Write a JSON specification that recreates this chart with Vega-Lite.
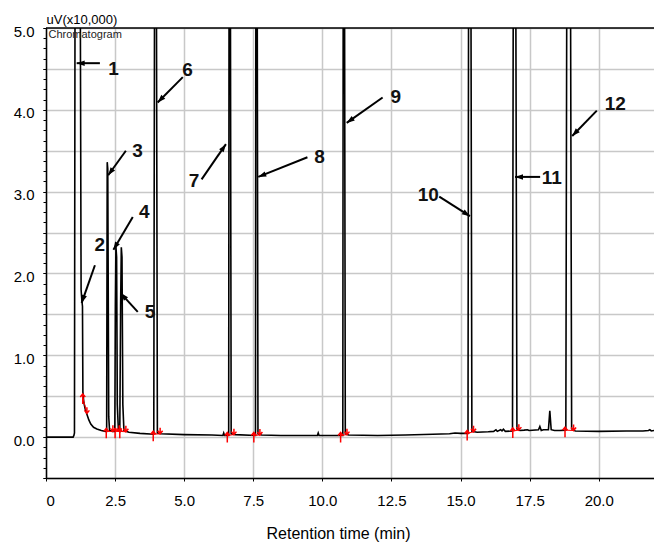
{
  "$schema": "https://vega.github.io/schema/vega-lite/v6.json",
  "width": 608,
  "height": 450,
  "autosize": {"type": "none"},
  "padding": {"left": 46, "top": 28, "right": 0, "bottom": 65},
  "background": "white",
  "config": {
    "view": {"stroke": null},
    "font": "Liberation Sans",
    "axis": {
      "labelFont": "Liberation Sans",
      "titleFont": "Liberation Sans",
      "labelColor": "black",
      "titleColor": "black",
      "domainColor": "black",
      "domainWidth": 1.5,
      "tickColor": "black",
      "tickWidth": 1,
      "gridColor": "#c8c8c8",
      "gridWidth": 1.5,
      "titleFontWeight": "normal"
    }
  },
  "datasets": {
    "chrom": [
      {"t": 0, "v": 0}, {"t": 0.5, "v": 0}, {"t": 0.98, "v": 0.0}, {"t": 1.01, "v": 0.02}, {"t": 1.03, "v": 0.05},
      {"t": 1.06, "v": 8}, {"t": 1.22, "v": 8}, {"t": 1.27, "v": 1.8}, {"t": 1.3, "v": 1.66}, {"t": 1.32, "v": 1.6},
      {"t": 1.335, "v": 0.55}, {"t": 1.37, "v": 0.42}, {"t": 1.42, "v": 0.34}, {"t": 1.48, "v": 0.28}, {"t": 1.55, "v": 0.21},
      {"t": 1.62, "v": 0.16}, {"t": 1.72, "v": 0.12}, {"t": 1.84, "v": 0.1}, {"t": 2.0, "v": 0.08}, {"t": 2.15, "v": 0.07},
      {"t": 2.195, "v": 0.07}, {"t": 2.215, "v": 3.36}, {"t": 2.235, "v": 3.28}, {"t": 2.27, "v": 0.25}, {"t": 2.3, "v": 0.08},
      {"t": 2.4, "v": 0.07}, {"t": 2.49, "v": 0.07}, {"t": 2.51, "v": 1.6}, {"t": 2.53, "v": 2.33}, {"t": 2.555, "v": 2.2},
      {"t": 2.58, "v": 0.4}, {"t": 2.62, "v": 0.08}, {"t": 2.67, "v": 0.07}, {"t": 2.7, "v": 1.6}, {"t": 2.725, "v": 2.32},
      {"t": 2.75, "v": 2.2}, {"t": 2.78, "v": 0.4}, {"t": 2.82, "v": 0.08}, {"t": 3.0, "v": 0.06}, {"t": 3.4, "v": 0.045},
      {"t": 3.9, "v": 0.035}, {"t": 3.94, "v": 8}, {"t": 3.98, "v": 8}, {"t": 4.03, "v": 0.05}, {"t": 4.15, "v": 0.04},
      {"t": 5.0, "v": 0.03}, {"t": 6.0, "v": 0.025}, {"t": 6.4, "v": 0.02}, {"t": 6.43, "v": 0.05}, {"t": 6.46, "v": 0.02},
      {"t": 6.61, "v": 0.02}, {"t": 6.63, "v": 8}, {"t": 6.66, "v": 8}, {"t": 6.7, "v": 0.04}, {"t": 6.85, "v": 0.03},
      {"t": 7.58, "v": 0.02}, {"t": 7.6, "v": 8}, {"t": 7.63, "v": 8}, {"t": 7.67, "v": 0.04}, {"t": 7.8, "v": 0.025},
      {"t": 8.5, "v": 0.02}, {"t": 9.5, "v": 0.02}, {"t": 9.82, "v": 0.02}, {"t": 9.85, "v": 0.05}, {"t": 9.88, "v": 0.02},
      {"t": 10.74, "v": 0.02}, {"t": 10.76, "v": 8}, {"t": 10.79, "v": 8}, {"t": 10.83, "v": 0.04}, {"t": 10.95, "v": 0.025},
      {"t": 12.0, "v": 0.02}, {"t": 13.0, "v": 0.025}, {"t": 14.0, "v": 0.035}, {"t": 14.6, "v": 0.04}, {"t": 14.8, "v": 0.05},
      {"t": 15.0, "v": 0.045}, {"t": 15.27, "v": 0.045}, {"t": 15.3, "v": 8}, {"t": 15.36, "v": 8}, {"t": 15.41, "v": 0.07},
      {"t": 15.6, "v": 0.06}, {"t": 16.0, "v": 0.065}, {"t": 16.2, "v": 0.07}, {"t": 16.28, "v": 0.09}, {"t": 16.33, "v": 0.07},
      {"t": 16.45, "v": 0.09}, {"t": 16.5, "v": 0.075}, {"t": 16.55, "v": 0.095}, {"t": 16.62, "v": 0.07}, {"t": 16.88, "v": 0.075},
      {"t": 16.92, "v": 8}, {"t": 16.98, "v": 8}, {"t": 17.04, "v": 0.1}, {"t": 17.15, "v": 0.08}, {"t": 17.3, "v": 0.085},
      {"t": 17.42, "v": 0.09}, {"t": 17.48, "v": 0.08}, {"t": 17.82, "v": 0.09}, {"t": 17.87, "v": 0.13}, {"t": 17.92, "v": 0.08},
      {"t": 18.0, "v": 0.09}, {"t": 18.18, "v": 0.09}, {"t": 18.23, "v": 0.32}, {"t": 18.28, "v": 0.09}, {"t": 18.4, "v": 0.08},
      {"t": 18.6, "v": 0.08}, {"t": 18.81, "v": 0.085}, {"t": 18.86, "v": 8}, {"t": 18.96, "v": 8}, {"t": 19.02, "v": 0.1},
      {"t": 19.15, "v": 0.075}, {"t": 20.0, "v": 0.07}, {"t": 21.0, "v": 0.075}, {"t": 21.6, "v": 0.075}, {"t": 21.8, "v": 0.08},
      {"t": 21.85, "v": 0.09}, {"t": 21.9, "v": 0.075}, {"t": 22.0, "v": 0.08}
    ],
    "marks": [
      {"t0": 1.33, "v0": 0.49, "t1": 1.48, "v1": 0.29},
      {"t0": 2.18, "v0": 0.07, "t1": 2.42, "v1": 0.07},
      {"t0": 2.5, "v0": 0.07, "t1": 2.65, "v1": 0.07},
      {"t0": 2.67, "v0": 0.07, "t1": 2.89, "v1": 0.065},
      {"t0": 3.88, "v0": 0.035, "t1": 4.13, "v1": 0.04},
      {"t0": 6.56, "v0": 0.02, "t1": 6.8, "v1": 0.03},
      {"t0": 7.52, "v0": 0.02, "t1": 7.74, "v1": 0.025},
      {"t0": 10.66, "v0": 0.02, "t1": 10.89, "v1": 0.03},
      {"t0": 15.24, "v0": 0.045, "t1": 15.47, "v1": 0.065},
      {"t0": 16.89, "v0": 0.075, "t1": 17.11, "v1": 0.085},
      {"t0": 18.78, "v0": 0.085, "t1": 19.09, "v1": 0.08}
    ],
    "arrows": [
      {"n": "1", "lx": 2.44, "ly": 4.5, "tx": 1.95, "ty": 4.57, "hx": 1.11, "hy": 4.57},
      {"n": "2", "lx": 1.95, "ly": 2.35, "tx": 1.77, "ty": 2.1, "hx": 1.29, "hy": 1.64},
      {"n": "3", "lx": 3.31, "ly": 3.5, "tx": 2.89, "ty": 3.5, "hx": 2.25, "hy": 3.2},
      {"n": "4", "lx": 3.56, "ly": 2.75, "tx": 3.14, "ty": 2.69, "hx": 2.44, "hy": 2.29},
      {"n": "5", "lx": 3.76, "ly": 1.53, "tx": 3.32, "ty": 1.53, "hx": 2.7, "hy": 1.76},
      {"n": "6", "lx": 5.12, "ly": 4.49, "tx": 4.95, "ty": 4.4, "hx": 4.04, "hy": 4.09},
      {"n": "7", "lx": 5.36, "ly": 3.13, "tx": 5.63, "ty": 3.15, "hx": 6.51, "hy": 3.58},
      {"n": "8", "lx": 9.9, "ly": 3.42, "tx": 9.46, "ty": 3.42, "hx": 7.68, "hy": 3.18},
      {"n": "9", "lx": 12.66, "ly": 4.16, "tx": 12.18, "ty": 4.15, "hx": 10.88, "hy": 3.84},
      {"n": "10", "lx": 13.83, "ly": 2.96, "tx": 14.23, "ty": 2.94, "hx": 15.34, "hy": 2.7},
      {"n": "11", "lx": 18.3, "ly": 3.17, "tx": 17.88, "ty": 3.18, "hx": 16.97, "hy": 3.18},
      {"n": "12", "lx": 20.6, "ly": 4.07, "tx": 19.93, "ty": 3.99, "hx": 19.04, "hy": 3.68}
    ]
  },
  "resolve": {"axis": {"y": "independent"}},
  "layer": [
    {
      "layer": [
        {"mark": {"type": "rule", "color": "#c8c8c8", "strokeWidth": 1.5}, "encoding": {"y": {"datum": 0, "type": "quantitative", "axis": null}}},
        {"mark": {"type": "rule", "color": "#c8c8c8", "strokeWidth": 1.5}, "encoding": {"y": {"datum": 0.5, "type": "quantitative", "axis": null}}},
        {"mark": {"type": "rule", "color": "#c8c8c8", "strokeWidth": 1.5}, "encoding": {"y": {"datum": 1, "type": "quantitative", "axis": null}}},
        {"mark": {"type": "rule", "color": "#c8c8c8", "strokeWidth": 1.5}, "encoding": {"y": {"datum": 1.5, "type": "quantitative", "axis": null}}},
        {"mark": {"type": "rule", "color": "#c8c8c8", "strokeWidth": 1.5}, "encoding": {"y": {"datum": 2, "type": "quantitative", "axis": null}}},
        {"mark": {"type": "rule", "color": "#c8c8c8", "strokeWidth": 1.5}, "encoding": {"y": {"datum": 2.5, "type": "quantitative", "axis": null}}},
        {"mark": {"type": "rule", "color": "#c8c8c8", "strokeWidth": 1.5}, "encoding": {"y": {"datum": 3, "type": "quantitative", "axis": null}}},
        {"mark": {"type": "rule", "color": "#c8c8c8", "strokeWidth": 1.5}, "encoding": {"y": {"datum": 3.5, "type": "quantitative", "axis": null}}},
        {"mark": {"type": "rule", "color": "#c8c8c8", "strokeWidth": 1.5}, "encoding": {"y": {"datum": 4, "type": "quantitative", "axis": null}}},
        {"mark": {"type": "rule", "color": "#c8c8c8", "strokeWidth": 1.5}, "encoding": {"y": {"datum": 4.5, "type": "quantitative", "axis": null}}}
      ]
    },
    {
      "layer": [
        {
          "data": {"name": "chrom"},
          "mark": {"type": "line", "color": "black", "strokeWidth": 1.6, "clip": true, "interpolate": "linear"},
          "encoding": {
            "x": {"field": "t", "type": "quantitative", "scale": {"domain": [0, 22], "nice": false, "zero": false},
              "axis": {
                "title": "Retention time (min)",
                "titleFontSize": 16,
                "titleAlign": "center",
                "titleBaseline": "alphabetic",
                "titleX": 292,
                "titleY": 60,
                "values": [0, 2.5, 5, 7.5, 10, 12.5, 15, 17.5, 20],
                "tickCount": 100,
                "labelExpr": "datum.value == 0 ? '0' : format(datum.value, '.1f')",
                "labelFontSize": 15,
                "labelPadding": 12,
                "tickSize": 3,
                "grid": true
              }
            },
            "y": {"field": "v", "type": "quantitative", "scale": {"domain": [-0.5, 5.0], "nice": false, "zero": false},
              "axis": {
                "orient": "left",
                "title": "uV(x10,000)",
                "titleAngle": 0,
                "titleAlign": "left",
                "titleBaseline": "alphabetic",
                "titleX": 0,
                "titleY": -5,
                "titleFontSize": 13,
                "values": [-0.5, 0, 0.5, 1, 1.5, 2, 2.5, 3, 3.5, 4, 4.5, 5],
                "labelExpr": "datum.value % 1 === 0 ? format(datum.value, '.1f') : ''",
                "labelFontSize": 15,
                "labelPadding": 9,
                "labelOffset": 3,
                "tickSize": 3,
                "grid": true
              }
            }
          }
        },
        {
          "data": {"values": [{"label": "Chromatogram"}]},
          "mark": {"type": "text", "align": "left", "baseline": "alphabetic", "fontSize": 11, "color": "#222"},
          "encoding": {
            "x": {"datum": 0.09, "type": "quantitative"},
            "y": {"datum": 4.878, "type": "quantitative"},
            "text": {"field": "label"}
          }
        },
        {
          "data": {"values": [{"k": 1}]},
          "mark": {"type": "rule", "color": "black", "strokeWidth": 1.5},
          "encoding": {
            "y": {"datum": 5, "type": "quantitative"},
            "x": {"datum": 0, "type": "quantitative"},
            "x2": {"datum": 22}
          }
        },
        {
          "data": {"name": "marks"},
          "mark": {"type": "rule", "color": "red", "strokeWidth": 1},
          "encoding": {
            "x": {"field": "t0", "type": "quantitative"},
            "y": {"field": "v0", "type": "quantitative"},
            "x2": {"field": "t1"},
            "y2": {"field": "v1"}
          }
        },
        {
          "data": {"name": "marks"},
          "mark": {"type": "point", "shape": "M0,1.4 L0,-0.6 M-0.5,0 L0,-0.6 L0.5,0", "filled": false, "color": "red", "strokeWidth": 1.5, "size": 100, "opacity": 1},
          "encoding": {
            "x": {"field": "t0", "type": "quantitative"},
            "y": {"field": "v0", "type": "quantitative"}
          }
        },
        {
          "data": {"name": "marks"},
          "mark": {"type": "point", "shape": "M0,-1.2 L0,0 M-0.5,-0.6 L0,0 L0.5,-0.6", "filled": false, "color": "red", "strokeWidth": 1.5, "size": 100, "opacity": 1},
          "encoding": {
            "x": {"field": "t1", "type": "quantitative"},
            "y": {"field": "v1", "type": "quantitative"}
          }
        },
        {
          "data": {"name": "arrows"},
          "mark": {"type": "rule", "color": "black", "strokeWidth": 2},
          "encoding": {
            "x": {"field": "tx", "type": "quantitative"},
            "y": {"field": "ty", "type": "quantitative"},
            "x2": {"field": "hx"},
            "y2": {"field": "hy"}
          }
        },
        {
          "data": {"name": "arrows"},
          "transform": [
            {"calculate": "atan2((datum.hx - datum.tx) * 608 / 22, (datum.hy - datum.ty) * 450 / 5.5) * 180 / PI", "as": "ang"}
          ],
          "mark": {"type": "point", "shape": "M0,0 L-0.55,1.6 L0.55,1.6 Z", "filled": true, "color": "black", "size": 100, "opacity": 1},
          "encoding": {
            "x": {"field": "hx", "type": "quantitative"},
            "y": {"field": "hy", "type": "quantitative"},
            "angle": {"field": "ang", "type": "quantitative", "scale": null}
          }
        },
        {
          "data": {"name": "arrows"},
          "mark": {"type": "text", "fontSize": 19, "fontWeight": "bold", "align": "center", "baseline": "middle", "color": "#111"},
          "encoding": {
            "x": {"field": "lx", "type": "quantitative"},
            "y": {"field": "ly", "type": "quantitative"},
            "text": {"field": "n"}
          }
        }
      ]
    },
    {
      "data": {"name": "chrom"},
      "mark": {"type": "point", "opacity": 0},
      "encoding": {
        "x": {"field": "t", "type": "quantitative", "scale": {"domain": [0, 22], "nice": false, "zero": false}},
        "y": {"field": "v", "type": "quantitative", "scale": {"domain": [-0.5, 5.0], "nice": false, "zero": false},
          "axis": {
            "orient": "left",
            "title": null,
            "values": [-0.5,-0.375,-0.25,-0.125,0,0.125,0.25,0.375,0.5,0.625,0.75,0.875,1,1.125,1.25,1.375,1.5,1.625,1.75,1.875,2,2.125,2.25,2.375,2.5,2.625,2.75,2.875,3,3.125,3.25,3.375,3.5,3.625,3.75,3.875,4,4.125,4.25,4.375,4.5,4.625,4.75,4.875,5],
            "tickCount": 200,
            "labels": false,
            "domain": false,
            "grid": false,
            "tickSize": 3
          }
        }
      }
    }
  ]
}
